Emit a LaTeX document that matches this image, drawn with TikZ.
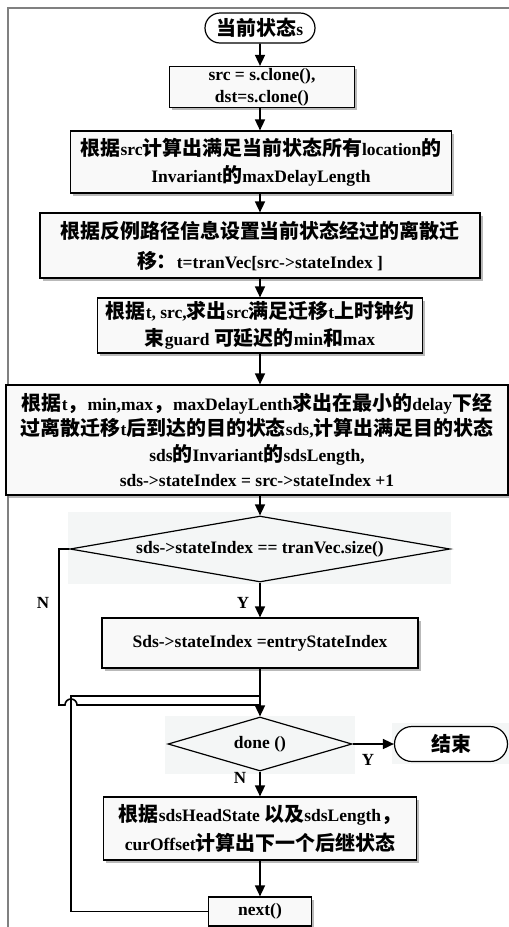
\documentclass[tikz,border=0pt]{standalone}
\usepackage{fontspec}
\setmainfont{Liberation Serif}
\newfontfamily\cjk{Noto Sans CJK SC}[Scale=1.14]
\usetikzlibrary{shapes.geometric,shapes.misc,shadows,arrows.meta}
\newcommand\zh[1]{{\cjk #1}}
\definecolor{bgc}{RGB}{244,246,246}
\begin{document}
\begin{tikzpicture}[x=1pt,y=-1pt,
  font=\fontsize{17.5}{27}\selectfont\bfseries,
  proc/.style={draw=black, line width=1.2pt, fill=gray!5, inner sep=0pt, align=center,
    drop shadow={shadow xshift=2.5pt,shadow yshift=-2.5pt,fill=gray!55,opacity=1}},
  term/.style={draw=black, line width=1.2pt, rounded rectangle, fill=white, inner sep=0pt},
  dec/.style={draw=black, line width=1.2pt, diamond, inner sep=0pt, shape aspect=6},
  flow/.style={line width=1.6pt, -{Triangle[width=10pt,length=11pt]}},
  conn/.style={line width=1.6pt},
  lab/.style={font=\fontsize{17}{18}\selectfont\bfseries}]
\useasboundingbox (0,0) rectangle (509,927);
% faint backgrounds
\fill[bgc] (68,512) rectangle (451,584);
\fill[bgc] (165,716) rectangle (355,774);
\fill[bgc] (392,723) rectangle (509,764);
% frame
\draw[gray, line width=1.4pt] (8,927) -- (8,8) -- (509,8);
% nodes
\node[term, minimum width=110pt, minimum height=30pt] (start) at (260,28) {\zh{当前状态}s};
\node[proc, minimum width=185pt, minimum height=41pt, font=\fontsize{17.5}{22}\selectfont\bfseries] (init) at (262,87) {src = s.clone(),\\dst=s.clone()};
\node[proc, minimum width=381pt, minimum height=62pt] (b3) at (261,162) {\zh{根据}src\zh{计算出满足当前状态所有}location\zh{的}\\Invariant\zh{的}maxDelayLength};
\node[proc, minimum width=440pt, minimum height=65pt, font=\fontsize{17.5}{30}\selectfont\bfseries] (b4) at (260,245.5) {\zh{根据反例路径信息设置当前状态经过的离散迁}\\\zh{移：}t=tranVec[src->stateIndex ]};
\node[proc, minimum width=325pt, minimum height=55pt] (b5) at (260,325.5) {\zh{根据}t, src,\zh{求出}src\zh{满足迁移}t\zh{上时钟约}\\\zh{束}guard \zh{可延迟的}min\zh{和}max};
\node[proc, minimum width=502pt, minimum height=110pt, font=\fontsize{17.5}{25.5}\selectfont\bfseries] (b6) at (257,440) {\zh{根据}t\zh{，}min,max\zh{，}maxDelayLenth\zh{求出在最小的}delay\zh{下经}\\\zh{过离散迁移}t\zh{后到达的目的状态}sds,\zh{计算出满足目的状态}\\sds\zh{的}Invariant\zh{的}sdsLength,\\sds->stateIndex = src->stateIndex +1};
\node[dec, minimum width=380pt, minimum height=66pt] (d1) at (260,549) {sds->stateIndex == tranVec.size()};
\node[proc, minimum width=316pt, minimum height=50pt] (b8) at (260,643) {Sds->stateIndex =entryStateIndex};
\node[dec, minimum width=184pt, minimum height=54pt] (d2) at (260,744) {done ()};
\node[term, minimum width=113pt, minimum height=35pt] (end) at (451,744) {\zh{结束}};
\node[proc, minimum width=313pt, minimum height=63pt, font=\fontsize{17.5}{29}\selectfont\bfseries] (b11) at (260,828.5) {\zh{根据}sdsHeadState \zh{以及}sdsLength\zh{，}\\curOffset\zh{计算出下一个后继状态}};
\node[proc, minimum width=103pt, minimum height=29pt] (next) at (260,911.5) {next()};
% labels
\node[lab] (nl1) at (43,603) {N};
\node[lab] (yl1) at (243,603) {Y};
\node[lab] (yl2) at (368,760) {Y};
\node[lab] (nl2) at (240,778) {N};
% connectors
\draw[flow] (start) -- (init.north -| start.south);
\draw[flow] (start.south |- init.south) -- (b3.north -| start.south);
\draw[flow] (start.south |- b3.south) -- (b4.north -| start.south);
\draw[flow] (b4) -- (b5);
\draw[flow] (b5.south) -- (b5.south |- b6.north);
\draw[flow] (d1.north |- b6.south) -- (d1.north);
\draw[flow] (d1) -- (b8);
\draw[flow] (b8) -- (d2);
\draw[flow] (d2) -- (end);
\draw[flow] (d2) -- (b11);
\draw[flow] (b11) -- (next);
\coordinate (j1) at (260,696);
\coordinate (j2) at (260,705);
\draw[conn] (next.west) -| (71,696) -- (j1);
\draw[conn] (d1.west) -- (59,549) -- (59,705) -- (65,705) arc[start angle=180,end angle=360,radius=6] -- (j2);
\end{tikzpicture}
\end{document}
